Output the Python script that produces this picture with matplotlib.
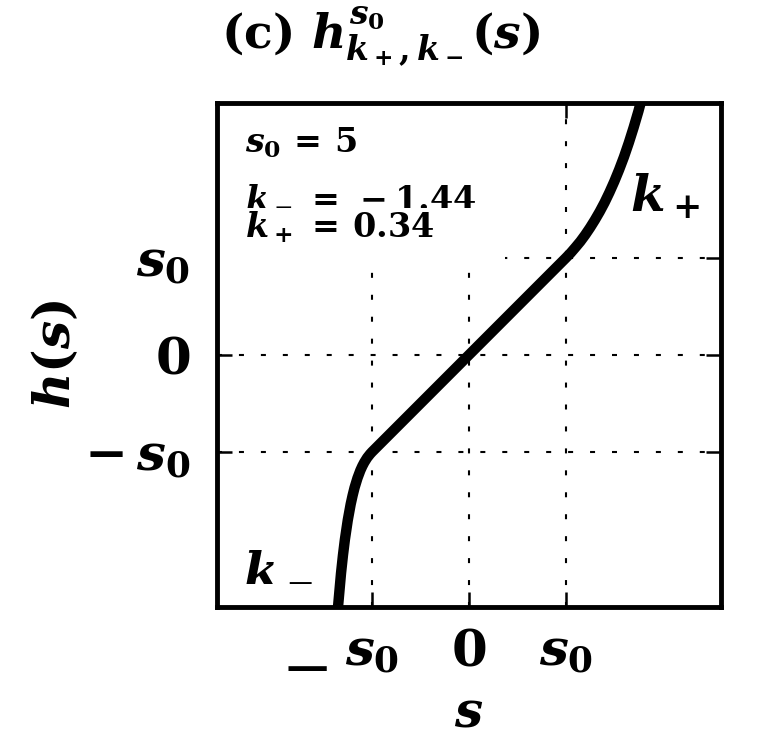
import matplotlib
matplotlib.use('Agg')
import matplotlib.pyplot as plt
from matplotlib.patches import Rectangle

plt.rcParams.update({
    'mathtext.fontset': 'custom',
    'mathtext.rm': 'DejaVu Serif:bold',
    'mathtext.it': 'DejaVu Serif:italic:bold',
    'mathtext.bf': 'DejaVu Serif:bold',
    'mathtext.fallback': 'stix',
    'font.family': 'DejaVu Serif',
    'font.weight': 'bold',
    'lines.scale_dashes': False,
})

# ---- data ----
s0 = 5
k_minus = -1.44
k_plus = 0.34
s_vals = [-6.9, -6.75, -6.6, -6.5, -6.4, -6.25, -6.1, -6.0, -5.9, -5.75, -5.6, -5.5,
          -5.4, -5.25, -5.1, -5.0, 0.0, 5.0, 5.25, 5.5, 5.75, 6.0, 6.25, 6.5, 6.75,
          7.0, 7.25, 7.5, 7.75, 8.0, 8.25, 8.5, 8.75, 9.0]
h_vals = [-15.02, -12.94, -11.26, -10.33, -9.52, -8.51, -7.69, -7.24, -6.84, -6.35, -5.95, -5.73,
          -5.54, -5.30, -5.11, -5.0, 0.0, 5.0, 5.26, 5.55, 5.85, 6.19, 6.56, 6.96, 7.39,
          7.86, 8.38, 8.94, 9.55, 10.21, 10.94, 11.73, 12.58, 13.52]
tick_vals = [-s0, 0, s0]
xtick_labels = [r'$s_0$', r'$0$', r'$s_0$']
ytick_labels = [r'$-\,s_0$', r'$0$', r'$s_0$']
lims = (-13, 13)

fig = plt.figure(figsize=(7.6, 7.56), dpi=100)
ax = fig.add_axes([0.2855, 0.197, 0.663, 0.667])

ax.plot(s_vals, h_vals, color='black', lw=7.5, zorder=5, solid_capstyle='butt')
ax.set_xlim(*lims)
ax.set_ylim(*lims)

ax.set_xticks(tick_vals)
ax.set_xticklabels(xtick_labels)
ax.set_yticks(tick_vals)
ax.set_yticklabels(ytick_labels)
ax.tick_params(direction='in', length=11, width=1.8, top=True, right=True,
               labelsize=37)
ax.tick_params(axis='y', pad=19)
ax.tick_params(axis='x', pad=15)
for sp in ax.spines.values():
    sp.set_linewidth(3.5)

ax.grid(True, color='black', linestyle=(0, (3.6, 12.2)), linewidth=1.5, zorder=1)
ax.set_axisbelow(True)

# white box behind the parameter text (hides grid)
ax.add_patch(Rectangle((0, 0.669), 0.571, 0.331, transform=ax.transAxes,
                       facecolor='white', edgecolor='none', zorder=2))

ax.text(0.056, 0.901, rf'$s_0\,=\,${s0}', transform=ax.transAxes, fontsize=24,
        va='baseline', ha='left', zorder=6)
ax.text(0.056, 0.798, rf'$k_-\,=\,-{abs(k_minus):.2f}$', transform=ax.transAxes, fontsize=24,
        va='baseline', ha='left', zorder=6)
ax.text(0.056, 0.732, rf'$k_+\,=\,{k_plus:.2f}$', transform=ax.transAxes, fontsize=24,
        va='baseline', ha='left', zorder=6)

ax.text(8.3, 7.42, r'$k_+$', fontsize=36, va='baseline', ha='left', zorder=6)
ax.text(-11.65, -11.65, r'$k_-$', fontsize=36, va='baseline', ha='left', zorder=6)

# detached minus of the -s0 x tick label
ax.annotate('\u2212', xy=(-s0, 0), xycoords=('data', 'axes fraction'),
            xytext=(-28.5, -46), textcoords='offset points', fontsize=44,
            fontweight='normal', ha='right', va='center')

ax.set_xlabel(r'$s$', fontsize=36)
ax.set_ylabel(r'$h(s)$', fontsize=36)
ax.xaxis.set_label_coords(0.5, -0.16)
ax.yaxis.set_label_coords(-0.27, 0.5)

fig.text(0.5, 0.935, r'$\mathrm{(c)}\ h^{s_0}_{k_+,k_-}(s)$', fontsize=34,
         ha='center', va='baseline')

fig.savefig('out.png', dpi=100)
